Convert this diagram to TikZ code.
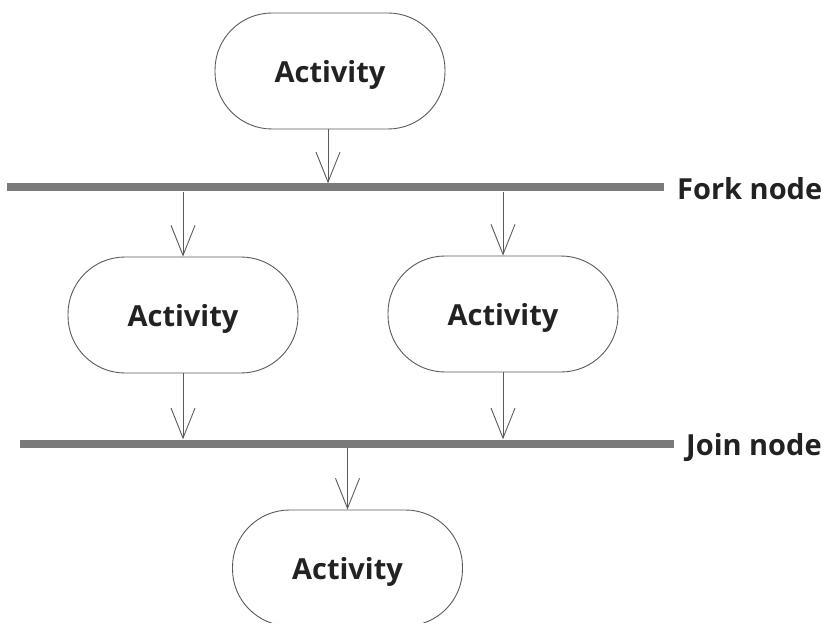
\documentclass[tikz,border=0pt]{standalone}
\usepackage{fontspec}
\setmainfont{Open Sans}
\usetikzlibrary{arrows.meta}
\definecolor{edge}{HTML}{5A5A5A}
\definecolor{barc}{HTML}{7A7A7A}
\definecolor{txt}{HTML}{222222}
\begin{document}
\begin{tikzpicture}[x=1pt,y=-1pt,
  act/.style={draw=edge, line width=0.9pt, rounded corners=57pt, minimum width=230pt, minimum height=116pt, inner sep=0pt, text depth=0pt, font=\fontsize{29}{32}\selectfont\bfseries, text=txt},
  bar/.style={fill=barc, draw=none, minimum height=8pt, inner sep=0pt},
  lbl/.style={anchor=west, inner sep=0pt, text depth=0pt, font=\fontsize{29}{32}\selectfont\bfseries, text=txt},
  flow/.style={draw=edge, line width=0.9pt, -{Straight Barb[length=30pt,width=24pt,line width=0.9pt]}}
]
\useasboundingbox (0,0) rectangle (833,623);
\node[act] (a1) at (330,71) {Activity};
\node[bar, minimum width=657pt] (fork) at (335.5,187.5) {};
\node[lbl] (forkl) at (677,188) {Fork node};
\node[act] (a2) at (183,315) {Activity};
\node[act] (a3) at (503,314) {Activity};
\node[bar, minimum width=654pt] (join) at (347,443.5) {};
\node[lbl] (joinl) at (686,444) {Join node};
\node[act] (a4) at (347.5,568) {Activity};
\draw[flow] (a1.south -| 328,0) -- (328,0 |- fork.north);
\draw[flow] (a2.north |- fork.south) -- (a2.north);
\draw[flow] (a3.north |- fork.south) -- (a3.north);
\draw[flow] (a2.south) -- (a2.south |- join.north);
\draw[flow] (a3.south) -- (a3.south |- join.north);
\draw[flow] (a4.north |- join.south) -- (a4.north);
\end{tikzpicture}
\end{document}
